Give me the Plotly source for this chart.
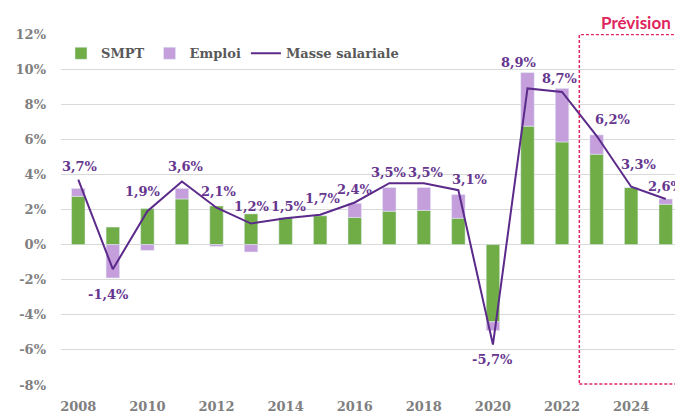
import plotly.graph_objects as go

years = list(range(2008, 2026))
smpt = [2.75, 1.0, 2.05, 2.6, 2.2, 1.75, 1.55, 1.65, 1.55, 1.9, 1.95, 1.5, -4.4, 6.75, 5.85, 5.15, 3.25, 2.3]
emploi = [0.45, -1.9, -0.33, 0.6, -0.1, -0.42, 0.0, 0.0, 0.8, 1.35, 1.3, 1.35, -0.5, 3.05, 3.05, 1.1, 0.0, 0.3]
masse = [3.7, -1.4, 1.9, 3.6, 2.1, 1.2, 1.5, 1.7, 2.4, 3.5, 3.5, 3.1, -5.7, 8.9, 8.7, 6.2, 3.3, 2.6]
masse_labels = ["3,7%", "-1,4%", "1,9%", "3,6%", "2,1%", "1,2%", "1,5%", "1,7%", "2,4%",
                "3,5%", "3,5%", "3,1%", "-5,7%", "8,9%", "8,7%", "6,2%", "3,3%", "2,6%"]
# label offsets in pixels (x, y)
lab_dx = [2, -4, -4, 4, 2, 1, 3, 3, 0, 0, 2, 12, 0, -9, -2, 16, 8, 0]
lab_dy = [13, -25, 20, 15, 16, 17, 12, 16, 13, 11, 11, 11, -15, 26, 13, 16, 22, 12]
y_ticks = list(range(-8, 13, 2))
y_tick_text = [f"{v}%" for v in y_ticks]
x_ticks = list(range(2008, 2025, 2))

SERIF = "DejaVu Serif"
GREEN = "#70ad47"
LAV = "#c49fdc"
PURPLE = "#5b2a8a"
LABEL = "#66368f"

fig = go.Figure()
fig.add_trace(go.Bar(x=years, y=smpt, name="<b>SMPT</b>", marker_color=GREEN, width=0.39))
fig.add_trace(go.Bar(x=years, y=emploi, name="<b>Emploi</b>", marker_color=LAV, width=0.39))
fig.add_trace(go.Scatter(x=years, y=masse, name="<b>Masse salariale</b>", mode="lines",
                         line=dict(color=PURPLE, width=2)))

for x, y, t, dx, dy in zip(years, masse, masse_labels, lab_dx, lab_dy):
    fig.add_annotation(x=x, y=y, text=f"<b>{t}</b>", showarrow=False, xshift=dx, yshift=dy,
                       font=dict(family=SERIF, size=13, color=LABEL))

fig.add_shape(type="rect", xref="x", yref="y", x0=2022.5, x1=2025.9, y0=-7.95, y1=11.97,
              line=dict(color="#e0245e", width=1.5, dash="3px,2px"), fillcolor="rgba(0,0,0,0)")
fig.add_annotation(xref="x", yref="paper", x=2024.15, y=1.032, xanchor="center", yanchor="middle",
                   text="<b>Prévision</b>", showarrow=False,
                   font=dict(family="Lato", size=17, color="#e0245e"))

fig.update_layout(
    width=675, height=406,
    margin=dict(l=53, r=0, t=25.5, b=26.5),
    paper_bgcolor="white", plot_bgcolor="white",
    barmode="relative", bargap=0.6,
    showlegend=True,
    legend=dict(orientation="h", x=0.0, xanchor="left", y=0.945, yanchor="middle",
                font=dict(family=SERIF, size=13, color="#595959"),
                bgcolor="rgba(0,0,0,0)", itemwidth=30, traceorder="normal"),
    xaxis=dict(range=[2007.5, 2025.5], tickmode="array", tickvals=x_ticks,
               ticktext=[f"<b>{v}</b>" for v in x_ticks], showgrid=False, zeroline=False,
               showline=False, ticks="", ticklabelstandoff=12,
               tickfont=dict(family=SERIF, size=13, color="#7f7f7f")),
    yaxis=dict(range=[-8, 12], tickmode="array", tickvals=y_ticks,
               ticktext=[f"<b>{t}</b>" for t in y_tick_text], showgrid=True,
               gridcolor="#d9d9d9", gridwidth=1, zeroline=True, zerolinecolor="#d9d9d9",
               zerolinewidth=1, showline=False, ticks="", ticklabelstandoff=14,
               tickfont=dict(family=SERIF, size=13, color="#7f7f7f")),
)

fig.write_html("out.html")
